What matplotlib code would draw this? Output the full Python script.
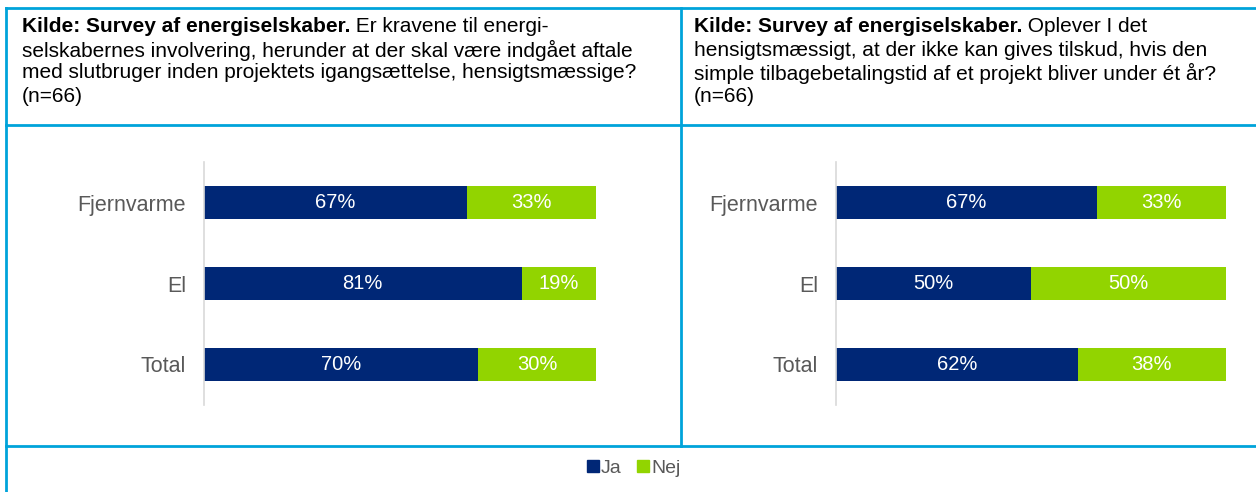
import matplotlib.pyplot as plt
from matplotlib.lines import Line2D

plt.rcParams['font.family'] = ['Liberation Sans', 'DejaVu Sans']

categories = ['Fjernvarme', 'El', 'Total']
ja_left = [67, 81, 70]
nej_left = [33, 19, 30]
ja_right = [67, 50, 62]
nej_right = [33, 50, 38]

bold_head = 'Kilde: Survey af energiselskaber.'
left_lines = [' Er kravene til energi-',
              'selskabernes involvering, herunder at der skal være indgået aftale',
              'med slutbruger inden projektets igangsættelse, hensigtsmæssige?',
              '(n=66)']
right_lines = [' Oplever I det',
               'hensigtsmæssigt, at der ikke kan gives tilskud, hvis den',
               'simple tilbagebetalingstid af et projekt bliver under ét år?',
               '(n=66)']

NAVY = '#002776'
GREEN = '#92D400'
FRAME = '#00A3DA'
GREY = '#595959'

W, H = 1256, 492
fig = plt.figure(figsize=(W / 100, H / 100), dpi=100)


def px(x, y):
    return x / W, 1 - y / H


# frame lines
def fline(x0, y0, x1, y1):
    a, b = px(x0, y0)
    c, d = px(x1, y1)
    fig.add_artist(Line2D([a, c], [b, d], color=FRAME, lw=2.0, transform=fig.transFigure))

fline(5.5, 7.5, 1256, 7.5)
fline(5.5, 7.5, 5.5, 492)
fline(5.5, 124.5, 1256, 124.5)
fline(681, 7.5, 681, 445.5)
fline(5.5, 445.5, 1256, 445.5)


def titles(x0, lines):
    renderer = fig.canvas.get_renderer()
    ys = [27, 50, 73, 97]
    x, y = px(x0, ys[0])
    t = fig.text(x, y, bold_head, fontsize=15, fontweight='bold', va='center', ha='left', color='black')
    bb = t.get_window_extent(renderer)
    fig.text(bb.x1 / W, y, lines[0], fontsize=15, va='center', ha='left', color='black')
    for ln, yy in zip(lines[1:], ys[1:]):
        x, y = px(x0, yy)
        fig.text(x, y, ln, fontsize=15, va='center', ha='left', color='black')


def panel(x0, x1, ja, nej):
    l, b = px(x0, 405)
    ax = fig.add_axes([l, b, (x1 - x0) / W, 243 / H])
    ypos = range(len(categories))
    ax.barh(ypos, ja, height=0.4, color=NAVY)
    ax.barh(ypos, nej, left=ja, height=0.4, color=GREEN)
    for i in ypos:
        ax.text(ja[i] / 2, i, f'{ja[i]}%', color='white', fontsize=14.5, ha='center', va='center')
        ax.text(ja[i] + nej[i] / 2, i, f'{nej[i]}%', color='white', fontsize=14.5, ha='center', va='center')
    ax.set_xlim(0, 100)
    ax.set_ylim(2.5, -0.5)
    ax.set_yticks(list(ypos))
    ax.set_yticklabels(categories, fontsize=15.5, color=GREY)
    ax.tick_params(axis='y', length=0, pad=13)
    ax.set_xticks([])
    for s in ['top', 'right', 'bottom']:
        ax.spines[s].set_visible(False)
    ax.spines['left'].set_color('#D9D9D9')
    ax.spines['left'].set_linewidth(1.2)
    ax.patch.set_alpha(0)
    return ax


fig.canvas.draw()
titles(22, left_lines)
titles(694, right_lines)
panel(204, 596, ja_left, nej_left)
panel(836, 1226, ja_right, nej_right)

handles = [Line2D([], [], marker='s', ls='none', color=NAVY, markersize=8),
           Line2D([], [], marker='s', ls='none', color=GREEN, markersize=8)]
lx, ly = px(634, 468)
fig.legend(handles, ['Ja', 'Nej'], loc='center', bbox_to_anchor=(lx, ly), ncol=2, frameon=False,
           fontsize=14, labelcolor=GREY, handlelength=0.6, handletextpad=0.1, columnspacing=0.8)

fig.savefig('out.png', dpi=100, facecolor='white')
